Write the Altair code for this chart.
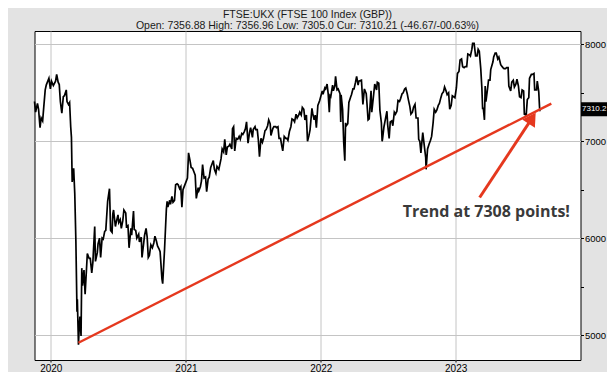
import altair as alt
import pandas as pd

# ---------------- data ----------------
dates = [
    "2019-11-18", "2019-11-21", "2019-11-26", "2019-11-29", "2019-12-03", "2019-12-06",
    "2019-12-10", "2019-12-13", "2019-12-17", "2019-12-20", "2019-12-27", "2019-12-31",
    "2020-01-03", "2020-01-08", "2020-01-10", "2020-01-14", "2020-01-17", "2020-01-21",
    "2020-01-24", "2020-01-27", "2020-01-31", "2020-02-04", "2020-02-07", "2020-02-12",
    "2020-02-14", "2020-02-18", "2020-02-21", "2020-02-24", "2020-02-26", "2020-02-28",
    "2020-03-03", "2020-03-06", "2020-03-09", "2020-03-12", "2020-03-13", "2020-03-16",
    "2020-03-18", "2020-03-20", "2020-03-23", "2020-03-25", "2020-03-27", "2020-03-31",
    "2020-04-03", "2020-04-07", "2020-04-09", "2020-04-14", "2020-04-17", "2020-04-21",
    "2020-04-24", "2020-04-29", "2020-05-01", "2020-05-06", "2020-05-08", "2020-05-12",
    "2020-05-15", "2020-05-19", "2020-05-22", "2020-05-26", "2020-05-29", "2020-06-03",
    "2020-06-08", "2020-06-11", "2020-06-15", "2020-06-17", "2020-06-19", "2020-06-24",
    "2020-06-26", "2020-07-01", "2020-07-03", "2020-07-07", "2020-07-10", "2020-07-14",
    "2020-07-17", "2020-07-22", "2020-07-24", "2020-07-28", "2020-07-31", "2020-08-05",
    "2020-08-07", "2020-08-12", "2020-08-14", "2020-08-18", "2020-08-21", "2020-08-26",
    "2020-08-28", "2020-09-02", "2020-09-04", "2020-09-08", "2020-09-11", "2020-09-15",
    "2020-09-18", "2020-09-21", "2020-09-24", "2020-09-28", "2020-10-02", "2020-10-06",
    "2020-10-09", "2020-10-13", "2020-10-16", "2020-10-20", "2020-10-23", "2020-10-28",
    "2020-10-30", "2020-11-04", "2020-11-09", "2020-11-11", "2020-11-13", "2020-11-18",
    "2020-11-20", "2020-11-24", "2020-11-27", "2020-12-01", "2020-12-04", "2020-12-08",
    "2020-12-11", "2020-12-15", "2020-12-18", "2020-12-21", "2020-12-24", "2020-12-30",
    "2021-01-05", "2021-01-08", "2021-01-12", "2021-01-15", "2021-01-19", "2021-01-22",
    "2021-01-26", "2021-01-29", "2021-02-03", "2021-02-05", "2021-02-09", "2021-02-12",
    "2021-02-15", "2021-02-19", "2021-02-23", "2021-02-26", "2021-03-02", "2021-03-05",
    "2021-03-09", "2021-03-12", "2021-03-16", "2021-03-19", "2021-03-23", "2021-03-26",
    "2021-03-31", "2021-04-06", "2021-04-09", "2021-04-13", "2021-04-16", "2021-04-20",
    "2021-04-23", "2021-04-27", "2021-04-30", "2021-05-05", "2021-05-07", "2021-05-10",
    "2021-05-13", "2021-05-17", "2021-05-21", "2021-05-25", "2021-05-28", "2021-06-01",
    "2021-06-04", "2021-06-08", "2021-06-11", "2021-06-14", "2021-06-18", "2021-06-22",
    "2021-06-25", "2021-06-30", "2021-07-02", "2021-07-07", "2021-07-09", "2021-07-13",
    "2021-07-16", "2021-07-19", "2021-07-23", "2021-07-27", "2021-07-30", "2021-08-03",
    "2021-08-06", "2021-08-10", "2021-08-13", "2021-08-17", "2021-08-19", "2021-08-24",
    "2021-08-27", "2021-09-01", "2021-09-03", "2021-09-07", "2021-09-10", "2021-09-14",
    "2021-09-17", "2021-09-20", "2021-09-24", "2021-09-28", "2021-10-01", "2021-10-04",
    "2021-10-08", "2021-10-12", "2021-10-15", "2021-10-19", "2021-10-22", "2021-10-26",
    "2021-10-29", "2021-11-02", "2021-11-05", "2021-11-09", "2021-11-12", "2021-11-16",
    "2021-11-19", "2021-11-23", "2021-11-26", "2021-11-30", "2021-12-03", "2021-12-08",
    "2021-12-10", "2021-12-14", "2021-12-17", "2021-12-20", "2021-12-24", "2021-12-29",
    "2022-01-05", "2022-01-07", "2022-01-12", "2022-01-14", "2022-01-18", "2022-01-21",
    "2022-01-24", "2022-01-26", "2022-01-28", "2022-02-02", "2022-02-04", "2022-02-08",
    "2022-02-10", "2022-02-14", "2022-02-17", "2022-02-22", "2022-02-24", "2022-02-25",
    "2022-03-01", "2022-03-04", "2022-03-07", "2022-03-09", "2022-03-11", "2022-03-15",
    "2022-03-18", "2022-03-23", "2022-03-25", "2022-03-29", "2022-04-01", "2022-04-05",
    "2022-04-08", "2022-04-12", "2022-04-14", "2022-04-21", "2022-04-25", "2022-04-29",
    "2022-05-04", "2022-05-06", "2022-05-09", "2022-05-12", "2022-05-17", "2022-05-19",
    "2022-05-24", "2022-05-27", "2022-06-01", "2022-06-03", "2022-06-07", "2022-06-10",
    "2022-06-14", "2022-06-16", "2022-06-17", "2022-06-21", "2022-06-24", "2022-06-29",
    "2022-07-01", "2022-07-05", "2022-07-08", "2022-07-12", "2022-07-15", "2022-07-19",
    "2022-07-22", "2022-07-26", "2022-07-29", "2022-08-02", "2022-08-05", "2022-08-09",
    "2022-08-12", "2022-08-16", "2022-08-19", "2022-08-23", "2022-08-26", "2022-08-30",
    "2022-09-02", "2022-09-06", "2022-09-09", "2022-09-13", "2022-09-16", "2022-09-21",
    "2022-09-23", "2022-09-26", "2022-09-29", "2022-10-04", "2022-10-07", "2022-10-12",
    "2022-10-13", "2022-10-17", "2022-10-21", "2022-10-25", "2022-10-28", "2022-11-01",
    "2022-11-04", "2022-11-08", "2022-11-11", "2022-11-15", "2022-11-18", "2022-11-22",
    "2022-11-25", "2022-11-29", "2022-12-02", "2022-12-06", "2022-12-09", "2022-12-13",
    "2022-12-16", "2022-12-20", "2022-12-23", "2022-12-30", "2023-01-03", "2023-01-06",
    "2023-01-10", "2023-01-13", "2023-01-17", "2023-01-20", "2023-01-24", "2023-01-27",
    "2023-01-31", "2023-02-03", "2023-02-08", "2023-02-10", "2023-02-14", "2023-02-16",
    "2023-02-20", "2023-02-24", "2023-02-28", "2023-03-03", "2023-03-06", "2023-03-10",
    "2023-03-13", "2023-03-15", "2023-03-17", "2023-03-20", "2023-03-22", "2023-03-24",
    "2023-03-29", "2023-03-31", "2023-04-04", "2023-04-06", "2023-04-12", "2023-04-14",
    "2023-04-18", "2023-04-21", "2023-04-25", "2023-04-28", "2023-05-03", "2023-05-05",
    "2023-05-09", "2023-05-12", "2023-05-16", "2023-05-19", "2023-05-23", "2023-05-25",
    "2023-05-30", "2023-06-02", "2023-06-06", "2023-06-09", "2023-06-13", "2023-06-16",
    "2023-06-20", "2023-06-23", "2023-06-27", "2023-06-30", "2023-07-04", "2023-07-06",
    "2023-07-11", "2023-07-14", "2023-07-18", "2023-07-20", "2023-07-25", "2023-07-28",
    "2023-08-01", "2023-08-03", "2023-08-08", "2023-08-10", "2023-08-14", "2023-08-16",
    "2023-08-17",
]
closes = [
    7410, 7300, 7390, 7330, 7140, 7240,
    7210, 7350, 7530, 7582, 7650, 7540,
    7620, 7575, 7590, 7620, 7690, 7610,
    7585, 7410, 7290, 7460, 7470, 7530,
    7410, 7380, 7400, 7150, 7040, 6580,
    6720, 6460, 5970, 5240, 5370, 4900,
    5080, 5190, 4990, 5690, 5510, 5670,
    5420, 5700, 5840, 5790, 5790, 5640,
    5750, 6120, 5760, 5850, 5940, 6000,
    5800, 6000, 5990, 6070, 6080, 6380,
    6510, 6080, 6060, 6250, 6290, 6120,
    6160, 6240, 6160, 6190, 6100, 6180,
    6290, 6260, 6120, 6130, 5900, 6100,
    6030, 6280, 6090, 6080, 6000, 6040,
    5960, 6010, 5800, 5930, 6030, 6100,
    6010, 5800, 5820, 5930, 5900, 5950,
    6020, 5970, 5920, 5890, 5860, 5580,
    5530, 5880, 6300, 6380, 6320, 6390,
    6350, 6430, 6370, 6390, 6550, 6560,
    6550, 6510, 6530, 6320, 6500, 6560,
    6620, 6880, 6800, 6730, 6720, 6690,
    6650, 6410, 6520, 6490, 6530, 6590,
    6760, 6620, 6630, 6480, 6610, 6630,
    6730, 6760, 6800, 6710, 6670, 6740,
    6710, 6820, 6920, 6890, 7020, 6860,
    6940, 6950, 6970, 6920, 7130, 7150,
    6900, 7030, 7020, 7050, 7020, 7080,
    7070, 7100, 7130, 7200, 6980, 7090,
    7140, 7040, 7120, 7150, 7120, 7120,
    7010, 6840, 7030, 6990, 7030, 7110,
    7120, 7160, 7220, 7180, 7060, 7130,
    7150, 7150, 7140, 7150, 7030, 7030,
    6960, 6900, 7050, 7030, 7030, 7010,
    7100, 7150, 7230, 7220, 7200, 7280,
    7240, 7270, 7300, 7270, 7350, 7330,
    7220, 7270, 7000, 7060, 7120, 7340,
    7290, 7220, 7270, 7140, 7370, 7420,
    7520, 7485, 7550, 7540, 7590, 7490,
    7300, 7470, 7460, 7580, 7520, 7570,
    7670, 7530, 7540, 7490, 7200, 7480,
    7330, 6990, 6800, 7190, 7160, 7180,
    7400, 7460, 7480, 7540, 7540, 7610,
    7670, 7580, 7620, 7630, 7380, 7540,
    7490, 7390, 7220, 7230, 7520, 7300,
    7480, 7590, 7530, 7610, 7600, 7320,
    7190, 7000, 7020, 7150, 7210, 7310,
    7170, 7030, 7200, 7210, 7160, 7300,
    7280, 7310, 7420, 7410, 7440, 7490,
    7500, 7540, 7550, 7490, 7430, 7360,
    7280, 7300, 7350, 7380, 7240, 7240,
    7020, 7000, 6880, 7090, 6990, 6830,
    6710, 6920, 6970, 7010, 7050, 7190,
    7330, 7300, 7320, 7370, 7390, 7450,
    7490, 7510, 7560, 7520, 7480, 7500,
    7330, 7370, 7470, 7450, 7550, 7700,
    7720, 7840, 7850, 7770, 7760, 7770,
    7770, 7900, 7890, 7880, 7950, 8010,
    8010, 7880, 7880, 7950, 7930, 7750,
    7550, 7340, 7340, 7220, 7570, 7410,
    7560, 7630, 7630, 7740, 7820, 7870,
    7910, 7910, 7850, 7870, 7790, 7780,
    7760, 7750, 7750, 7760, 7760, 7570,
    7520, 7610, 7630, 7560, 7590, 7640,
    7570, 7460, 7450, 7530, 7520, 7280,
    7270, 7430, 7450, 7650, 7690, 7690,
    7700, 7530, 7530, 7620, 7510, 7360,
    7310.21,
]

trend_dates = ["2020-03-16", "2023-09-17"]
trend_values = [4920, 7389]

arrow_dates = ["2023-03-07", "2023-07-27"]
arrow_values = [6419, 7238]

note_dates = ["2023-03-25"]
note_values = [6273]
note_texts = ["Trend at 7308 points!"]

title_lines = [
    "FTSE:UKX (FTSE 100 Index (GBP))",
    "Open: 7356.88 High: 7356.96 Low: 7305.0 Cur: 7310.21 (-46.67/-00.63%)",
]
last_price = [7330]
last_label = ["7310.2"]
year_ticks = [2020, 2021, 2022, 2023]
y_ticks = [5000, 5500, 6000, 6500, 7000, 7500, 8000]

# ---------------- chart ----------------
W, H = 546, 329
RED = "#e5381e"
FONT = "Liberation Sans"

x_scale = alt.Scale(domain=[alt.DateTime(year=2019, month=11, date=18),
                            alt.DateTime(year=2023, month=12, date=5)])
y_scale = alt.Scale(domain=[4742, 8138], nice=False, zero=False)

x_axis = alt.Axis(
    values=[alt.DateTime(year=y, month=1, date=1) for y in year_ticks],
    format="%Y", title=None, grid=True, gridColor="#c4c4c4", gridWidth=1,
    domain=False, ticks=True, tickSize=2, tickColor="black",
    labelFont=FONT, labelFontSize=10, labelColor="black", labelPadding=1,
    labelAlign="center",
)
y_axis = alt.Axis(
    orient="right", values=y_ticks, format="d", title=None,
    labelExpr="datum.value % 1000 === 0 ? datum.label : ''",
    grid=True, gridColor="#c4c4c4", gridWidth=1,
    gridOpacity={"condition": {"test": "datum.value % 1000 === 0", "value": 1}, "value": 0},
    domain=False, ticks=True, tickSize=3, tickColor="black",
    labelFont=FONT, labelFontSize=9.5, labelColor="black", labelPadding=1,
)

X = alt.X("date:T", scale=x_scale, axis=x_axis)
Y = alt.Y("value:Q", scale=y_scale, axis=y_axis)

price = pd.DataFrame({"date": pd.to_datetime(dates), "value": closes})
trend = pd.DataFrame({"date": pd.to_datetime(trend_dates), "value": trend_values})
arrow = pd.DataFrame({"date": pd.to_datetime(arrow_dates), "value": arrow_values})
note = pd.DataFrame({"date": pd.to_datetime(note_dates), "value": note_values, "text": note_texts})
tip = arrow.iloc[[1]]
box = pd.DataFrame({"value": [v - 72 for v in last_price], "value2": [v + 72 for v in last_price],
                    "label": last_label})
box_text = pd.DataFrame({"value": last_price, "label": last_label})

line = alt.Chart(price).mark_line(color="black", strokeWidth=1.7).encode(x=X, y=Y)
trend_line = alt.Chart(trend).mark_line(color=RED, strokeWidth=2.4).encode(x=X, y=Y)
arrow_line = alt.Chart(arrow).mark_line(color=RED, strokeWidth=3).encode(x=X, y=Y)
arrow_head = alt.Chart(tip).mark_point(
    shape="triangle-up", angle=33, filled=True, color=RED, size=230, opacity=1
).encode(x=X, y=Y)
note_mark = alt.Chart(note).mark_text(
    font="Open Sans", fontSize=16, fontWeight="bold", color="#3a3a3a", align="center", baseline="middle"
).encode(x=X, y=Y, text="text:N")
box_mark = alt.Chart(box).mark_rect(color="black").encode(
    x=alt.value(W + 0.5), x2=alt.value(W + 40), y=Y, y2="value2:Q"
)
box_label = alt.Chart(box_text).mark_text(
    font=FONT, fontSize=8, color="white", align="left", baseline="middle"
).encode(x=alt.value(W + 1.5), y=Y, text="label:N")

chart = alt.layer(
    line, trend_line, arrow_line, arrow_head, note_mark, box_mark, box_label
).properties(
    width=W, height=H,
    title=alt.TitleParams(
        text=title_lines, font=FONT, fontSize=10.5, fontWeight="normal", color="#1a1a1a",
        anchor="middle", frame="group", offset=0, lineHeight=11,
    ),
    autosize=alt.AutoSizeParams(type="none"),
    padding={"left": 26.5, "top": 23, "right": 26.5, "bottom": 12},
    background="#e3e3e3",
).configure_view(
    fill="white", stroke="black", strokeWidth=1
)

chart.save("out.html", embed_options={"renderer": "svg", "actions": False})
